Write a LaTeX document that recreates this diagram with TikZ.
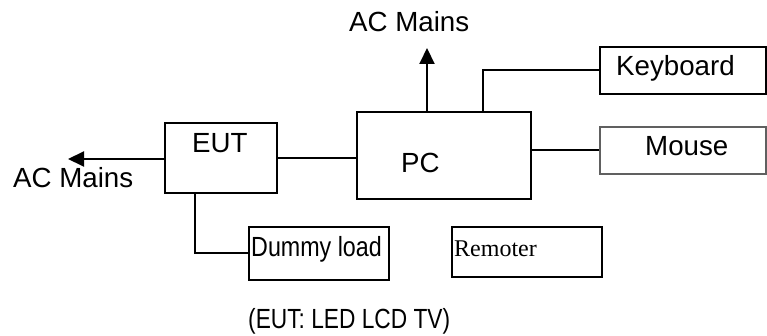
\documentclass[tikz,border=0pt]{standalone}
\usepackage{fontspec}
\setmainfont{Liberation Sans}
\newfontfamily\seriffont{Liberation Serif}
\usepackage{graphicx}
\usetikzlibrary{positioning,arrows.meta,calc}

\begin{document}
\begin{tikzpicture}[x=1pt, y=-1pt, font=\fontsize{27.7}{33}\selectfont,
  box/.style={draw, line width=2pt, inner sep=0pt},
  lightbox/.style={box, draw=gray!75!black, line width=1.3pt},
  lab/.style={inner sep=0pt, anchor=base west},
  wire/.style={line width=2pt},
  arr/.style={wire, -{Triangle[length=16pt, width=15pt]}}]
\useasboundingbox (0,0) rectangle (767,336);
% boxes
\node[box, minimum width=112pt, minimum height=70pt] (eut) at (221,158) {};
\node[box, minimum width=174pt, minimum height=87pt] (pc) at (444,155.5) {};
\node[box, minimum width=166pt, minimum height=47pt] (kbd) at (683,70.5) {};
\node[lightbox, minimum width=166pt, minimum height=47pt] (mouse) at (683,150.5) {};
\node[box, minimum width=140pt, minimum height=53pt] (dummy) at (319,253.5) {};
\node[box, minimum width=150pt, minimum height=50pt] (rem) at (527,252) {};
% texts
\node[lab] (eutlab) at (192,153) {EUT};
\node[lab] (pclab) at (401,173) {PC};
\node[lab] (kbdlab) at (616,76) {Keyboard};
\node[lab] (mouselab) at (645,156) {Mouse};
\node[lab] (dummylab) at (251,257) {\scalebox{0.84}[1]{Dummy load}};
\node[lab, font=\seriffont\fontsize{24}{29}\selectfont] (remlab) at (454,257) {Remoter};
\node[lab] (actop) at (349,32) {AC Mains};
\node[lab] (acleft) at (13,188) {AC Mains};
\node[lab] (note) at (248,328) {\scalebox{0.82}[1]{(EUT: LED LCD TV)}};
% connectors
\coordinate (acl) at (68,159);
\coordinate (acm) at (427,48);
\draw[arr] (eut.west |- acl) -- (acl);
\draw[wire] (eut.east) -- (eut.east -| pc.west);
\draw[arr] (acm |- pc.north) -- (acm);
\draw[wire] (kbd.west) -| ([xshift=39pt]pc.north);
\draw[wire] (mouse.west) -- (mouse.west -| pc.east);
\draw[wire] (dummy.west) -| ([xshift=-26pt]eut.south);
\end{tikzpicture}
\end{document}
